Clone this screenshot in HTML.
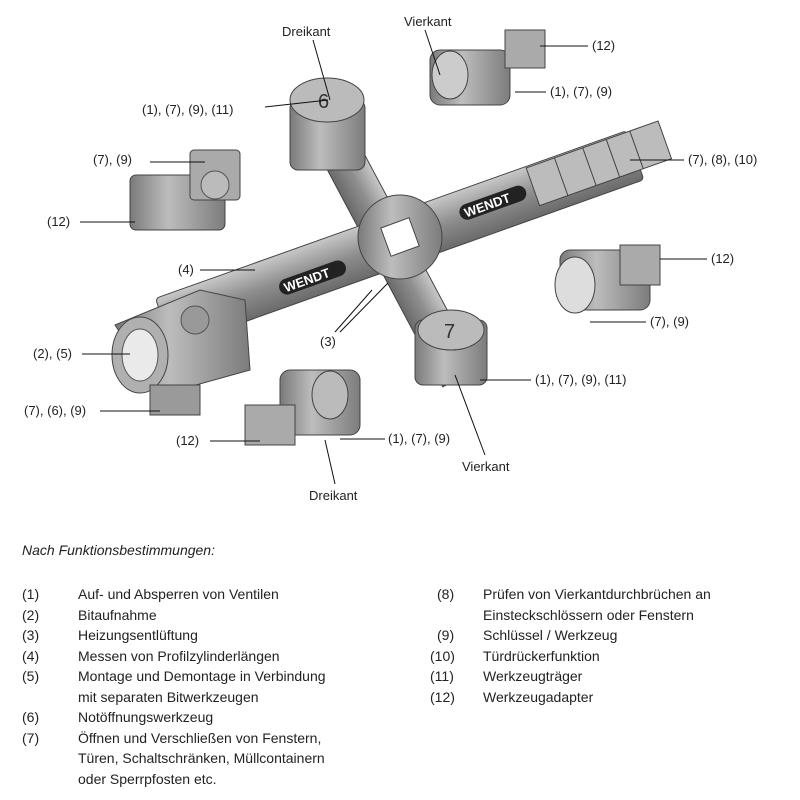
<!DOCTYPE html>
<html><head><meta charset="utf-8"><style>
body{margin:0;background:#fff;width:800px;height:800px;overflow:hidden;font-family:"Liberation Sans",sans-serif;}
svg{position:absolute;left:0;top:0}
.t{font-family:"Liberation Sans",sans-serif;font-size:13px;fill:#222}
.legend{position:absolute;font-size:14px;color:#222;line-height:20.5px}
.legend div{position:relative;height:20.5px;white-space:nowrap}
.legend span{position:absolute;left:0}
.legend b{font-weight:normal;position:absolute}
</style></head><body>
<svg width="800" height="540" viewBox="0 0 800 540">
<defs>
<linearGradient id="g1" x1="0" y1="0" x2="0" y2="1"><stop offset="0" stop-color="#c8c8c8"/><stop offset=".5" stop-color="#8e8e8e"/><stop offset="1" stop-color="#6a6a6a"/></linearGradient>
<linearGradient id="g2" x1="0" y1="0" x2="1" y2="0"><stop offset="0" stop-color="#7a7a7a"/><stop offset=".4" stop-color="#bdbdbd"/><stop offset="1" stop-color="#7c7c7c"/></linearGradient>
</defs>
<!-- second bar -->
<g transform="rotate(62 390 245)"><rect x="250" y="225" width="290" height="40" fill="url(#g1)" stroke="#444"/></g>
<!-- main bar -->
<g transform="rotate(-19.6 400 240)"><rect x="150" y="213" width="500" height="52" rx="4" fill="url(#g1)" stroke="#444"/>
<rect x="465" y="228" width="70" height="16" rx="8" fill="#222"/><text x="470" y="241" font-size="13" font-weight="bold" fill="#fff" font-family="Liberation Sans">WENDT</text>
<rect x="270" y="238" width="70" height="16" rx="8" fill="#222"/><text x="275" y="251" font-size="13" font-weight="bold" fill="#fff" font-family="Liberation Sans">WENDT</text>
</g>
<!-- step prism -->
<g transform="rotate(-19.6 580 170)"><rect x="530" y="150" width="140" height="40" fill="#bcbcbc" stroke="#444"/><line x1="560" y1="150" x2="560" y2="190" stroke="#444"/><line x1="590" y1="150" x2="590" y2="190" stroke="#444"/><line x1="615" y1="150" x2="615" y2="190" stroke="#444"/><line x1="640" y1="150" x2="640" y2="190" stroke="#444"/></g>
<!-- big cylinder -->
<path d="M115,325 L200,290 L245,300 L250,370 L160,395 Z" fill="url(#g2)" stroke="#444"/>
<ellipse cx="140" cy="355" rx="28" ry="38" fill="#b0b0b0" stroke="#444"/><ellipse cx="140" cy="355" rx="18" ry="26" fill="#eaeaea" stroke="#555"/>
<rect x="150" y="385" width="50" height="30" fill="#9a9a9a" stroke="#444"/>
<circle cx="195" cy="320" r="14" fill="#999" stroke="#555"/>
<!-- center hub -->
<circle cx="400" cy="237" r="42" fill="url(#g2)" stroke="#444"/><rect x="385" y="222" width="30" height="30" fill="#fff" stroke="#444" transform="rotate(-20 400 237)"/>
<!-- top cylinder -->
<rect x="290" y="100" width="75" height="70" rx="8" fill="url(#g2)" stroke="#444"/><ellipse cx="327" cy="100" rx="37" ry="22" fill="#bbb" stroke="#444"/><text x="318" y="108" font-size="20" fill="#333" font-family="Liberation Sans">6</text>
<!-- bottom cylinder -->
<rect x="415" y="320" width="72" height="65" rx="8" fill="url(#g2)" stroke="#444"/><ellipse cx="451" cy="330" rx="33" ry="20" fill="#bbb" stroke="#444"/><text x="444" y="338" font-size="20" fill="#333" font-family="Liberation Sans">7</text>
<!-- adapters -->
<rect x="430" y="50" width="80" height="55" rx="10" fill="url(#g2)" stroke="#444"/><rect x="505" y="30" width="40" height="38" fill="#aaa" stroke="#444"/><ellipse cx="450" cy="75" rx="18" ry="24" fill="#ccc" stroke="#444"/>
<rect x="130" y="175" width="95" height="55" rx="6" fill="url(#g2)" stroke="#444"/><rect x="190" y="150" width="50" height="50" rx="4" fill="#aaa" stroke="#444"/><circle cx="215" cy="185" r="14" fill="#bbb" stroke="#555"/>
<rect x="560" y="250" width="90" height="60" rx="10" fill="url(#g2)" stroke="#444"/><rect x="620" y="245" width="40" height="40" fill="#aaa" stroke="#444"/><ellipse cx="575" cy="285" rx="20" ry="28" fill="#ddd" stroke="#444"/>
<rect x="280" y="370" width="80" height="65" rx="10" fill="url(#g2)" stroke="#444"/><rect x="245" y="405" width="50" height="40" fill="#aaa" stroke="#444"/><ellipse cx="330" cy="395" rx="18" ry="24" fill="#bbb" stroke="#444"/>
<!-- leader lines -->
<g stroke="#111" stroke-width="1" fill="none">
<line x1="313" y1="40" x2="330" y2="100"/><line x1="265" y1="107" x2="328" y2="100"/>
<line x1="425" y1="30" x2="440" y2="75"/><line x1="540" y1="46" x2="588" y2="46"/><line x1="515" y1="92" x2="546" y2="92"/>
<line x1="630" y1="160" x2="684" y2="160"/><line x1="150" y1="162" x2="205" y2="162"/><line x1="80" y1="222" x2="135" y2="222"/>
<line x1="200" y1="270" x2="255" y2="270"/><line x1="660" y1="259" x2="707" y2="259"/>
<line x1="335" y1="332" x2="372" y2="290"/><line x1="340" y1="332" x2="388" y2="283"/>
<line x1="590" y1="322" x2="646" y2="322"/><line x1="82" y1="354" x2="130" y2="354"/><line x1="480" y1="380" x2="531" y2="380"/>
<line x1="100" y1="411" x2="160" y2="411"/><line x1="210" y1="441" x2="260" y2="441"/><line x1="340" y1="439" x2="385" y2="439"/>
<line x1="485" y1="455" x2="455" y2="375"/><line x1="335" y1="484" x2="325" y2="440"/>
</g>
<g class="t">
<text x="282" y="36">Dreikant</text><text x="142" y="114">(1), (7), (9), (11)</text>
<text x="404" y="26">Vierkant</text><text x="592" y="50">(12)</text><text x="550" y="96">(1), (7), (9)</text>
<text x="688" y="164">(7), (8), (10)</text><text x="93" y="164">(7), (9)</text><text x="47" y="226">(12)</text>
<text x="178" y="274">(4)</text><text x="711" y="263">(12)</text><text x="320" y="346">(3)</text>
<text x="650" y="326">(7), (9)</text><text x="33" y="358">(2), (5)</text><text x="535" y="384">(1), (7), (9), (11)</text>
<text x="24" y="415">(7), (6), (9)</text><text x="176" y="445">(12)</text><text x="388" y="443">(1), (7), (9)</text>
<text x="462" y="471">Vierkant</text><text x="309" y="500">Dreikant</text>
</g>
</svg>
<div style="position:absolute;left:22px;top:542px;font-size:14px;font-style:italic;color:#222">Nach Funktionsbestimmungen:</div>
<div class="legend" style="left:22px;top:584px;width:400px">
<div><span>(1)</span><b style="left:56px">Auf- und Absperren von Ventilen</b></div>
<div><span>(2)</span><b style="left:56px">Bitaufnahme</b></div>
<div><span>(3)</span><b style="left:56px">Heizungsentlüftung</b></div>
<div><span>(4)</span><b style="left:56px">Messen von Profilzylinderlängen</b></div>
<div><span>(5)</span><b style="left:56px">Montage und Demontage in Verbindung</b></div>
<div><b style="left:56px">mit separaten Bitwerkzeugen</b></div>
<div><span>(6)</span><b style="left:56px">Notöffnungswerkzeug</b></div>
<div><span>(7)</span><b style="left:56px">Öffnen und Verschließen von Fenstern,</b></div>
<div><b style="left:56px">Türen, Schaltschränken, Müllcontainern</b></div>
<div><b style="left:56px">oder Sperrpfosten etc.</b></div>
</div>
<div class="legend" style="left:430px;top:584px;width:370px">
<div><span style="left:7px">(8)</span><b style="left:53px">Prüfen von Vierkantdurchbrüchen an</b></div>
<div><b style="left:53px">Einsteckschlössern oder Fenstern</b></div>
<div><span style="left:7px">(9)</span><b style="left:53px">Schlüssel / Werkzeug</b></div>
<div><span>(10)</span><b style="left:53px">Türdrückerfunktion</b></div>
<div><span>(11)</span><b style="left:53px">Werkzeugträger</b></div>
<div><span>(12)</span><b style="left:53px">Werkzeugadapter</b></div>
</div>
</body></html>
